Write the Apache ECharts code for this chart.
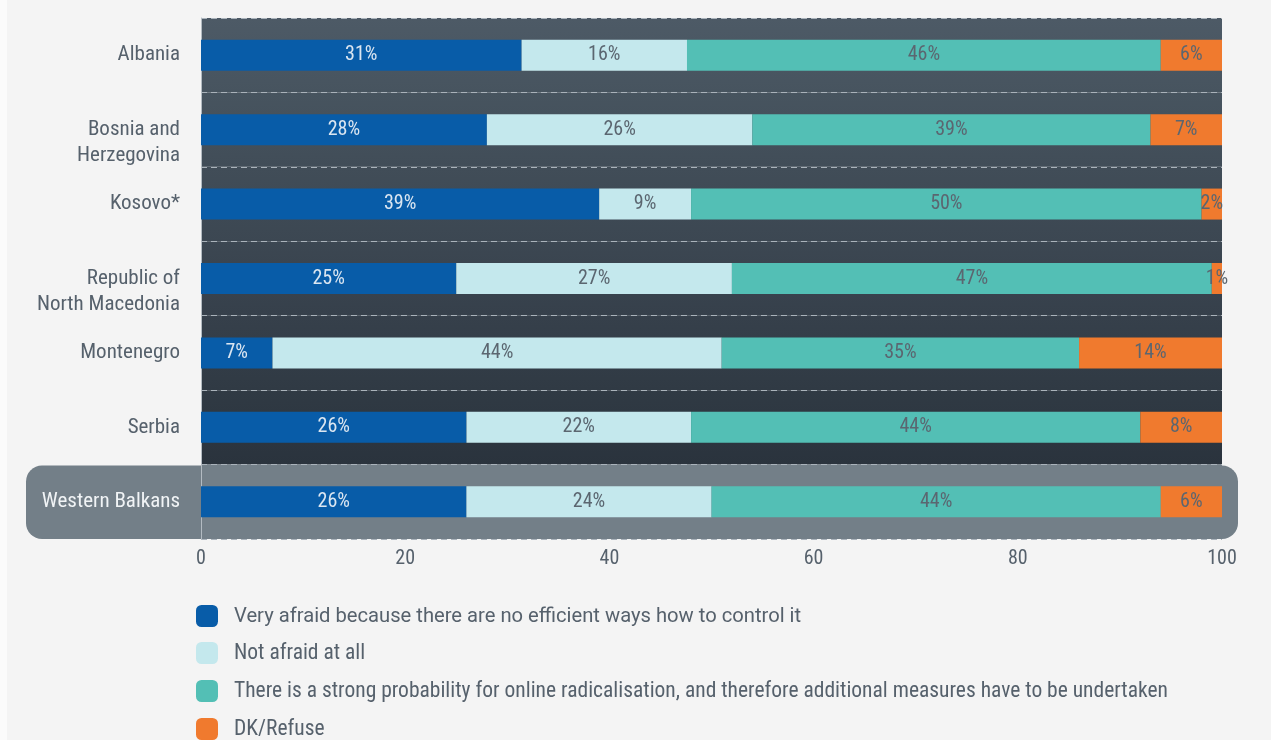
<!DOCTYPE html>
<html>
<head>
<meta charset="utf-8">
<script src="https://cdn.jsdelivr.net/npm/echarts@6/dist/echarts.min.js"></script>
<style>
html,body{margin:0;padding:0;background:#fbfbfb;}
#c{position:absolute;left:0;top:0;width:1271px;height:740px;}
#bg{position:absolute;left:7px;top:0;width:1264px;height:740px;background:#f4f4f4;}
</style>
</head>
<body>
<div id="bg"></div>
<div id="c"></div>
<script>
// ---- data ----
const categories = ['Albania', 'Bosnia and\nHerzegovina', 'Kosovo*', 'Republic of\nNorth Macedonia', 'Montenegro', 'Serbia', 'Western Balkans'];
const seriesNames = [
  'Very afraid because there are no efficient ways how to control it',
  'Not afraid at all',
  'There is a strong probability for online radicalisation, and therefore additional measures have to be undertaken',
  'DK/Refuse'
];
const veryAfraid   = [31.4, 28, 39, 25, 7, 26, 26];
const notAfraid    = [16.2, 26, 9, 27, 44, 22, 24];
const strongProb   = [46.4, 39, 50, 47, 35, 44, 44];
const dkRefuse     = [6.0, 7, 2, 1, 14, 8, 6];
const xTicks = [0, 20, 40, 60, 80, 100];

// ---- style ----
const FONT = "'Roboto Condensed', 'Liberation Sans Narrow', 'DejaVu Sans Condensed', Roboto, sans-serif";
const colors = ['#085ca8', '#c4e8ed', '#53bfb5', '#f07a2e'];
const G = {left: 201, right: 49, top: 18, bottom: 201};

function mix(a, b, t) {
  const r = a.map((v, i) => Math.round(v + (b[i] - v) * t));
  return 'rgb(' + r.join(',') + ')';
}
const cTop = [77, 90, 102], cBot = [42, 51, 61];
const darkBands = 6;
const bandColors = [];
for (let i = 0; i < darkBands; i++) {
  bandColors.push(new echarts.graphic.LinearGradient(0, 0, 0, 1, [
    {offset: 0, color: mix(cTop, cBot, i / darkBands)},
    {offset: 1, color: mix(cTop, cBot, (i + 1) / darkBands)}
  ]));
}
bandColors.push('#737f88');

const chart = echarts.init(document.getElementById('c'), null, {renderer: 'canvas'});

function labelFmt(p) { return Math.round(p.value) + '%'; }
const dataSets = [veryAfraid, notAfraid, strongProb, dkRefuse];

const series = dataSets.map((d, i) => ({
  name: seriesNames[i],
  type: 'bar',
  stack: 'total',
  data: d,
  barWidth: 31,
  itemStyle: {color: colors[i]},
  emphasis: {disabled: true},
  label: {
    show: true,
    position: 'inside',
    formatter: labelFmt,
    fontFamily: FONT,
    fontSize: 20,
    color: i === 0 ? '#dbe6f1' : '#5b6670'
  }
}));

const H = 740;
const plotH = H - G.top - G.bottom;
const band = plotH / categories.length;
const wbTop = G.top + band * (categories.length - 1);

chart.setOption({
  animation: false,
  backgroundColor: 'transparent',
  grid: {left: G.left, right: G.right, top: G.top, bottom: G.bottom},
  graphic: [{
    type: 'rect', z: -1, silent: true,
    shape: {x: 26, y: wbTop + 1, width: 1238 - 26, height: band - 1, r: 16},
    style: {fill: '#737f88'}
  }],
  xAxis: {
    type: 'value', min: 0, max: 100, interval: 20,
    axisLine: {show: false}, axisTick: {show: false}, splitLine: {show: false},
    axisLabel: {
      color: '#56616c', fontFamily: FONT, fontSize: 20, margin: 10,
      formatter: v => xTicks.includes(v) ? String(v) : ''
    }
  },
  yAxis: {
    type: 'category', inverse: true, data: categories,
    axisTick: {show: false},
    axisLine: {show: true, lineStyle: {color: '#b3bbc2', width: 1}},
    splitLine: {show: true, lineStyle: {color: '#aab3bb', width: 1, type: [6, 4]}},
    splitArea: {show: true, areaStyle: {color: bandColors}},
    axisLabel: {
      margin: 21,
      fontFamily: FONT, fontSize: 21, color: '#56616c', lineHeight: 26,
      formatter: v => {
        if (v === 'Western Balkans') return '{w|' + v + '}';
        if (v.indexOf('\n') >= 0) return ' \n' + v;
        return v;
      },
      rich: {w: {color: '#f1f4f6', fontFamily: FONT, fontSize: 21}}
    }
  },
  legend: {
    orient: 'vertical', left: 196, top: 605, height: 200, padding: 0,
    itemWidth: 22, itemHeight: 22, itemGap: 15, icon: 'roundRect',
    selectedMode: false,
    data: seriesNames,
    formatter: n => n === seriesNames[0] ? '{r|' + n + '}' : n,
    textStyle: {
      fontFamily: FONT, fontSize: 21.5, color: '#56616c', padding: [2, 0, 0, 11],
      rich: {r: {fontFamily: 'Roboto, sans-serif', fontSize: 20.2, color: '#56616c'}}
    }
  },
  series: series
});
</script>
</body>
</html>
